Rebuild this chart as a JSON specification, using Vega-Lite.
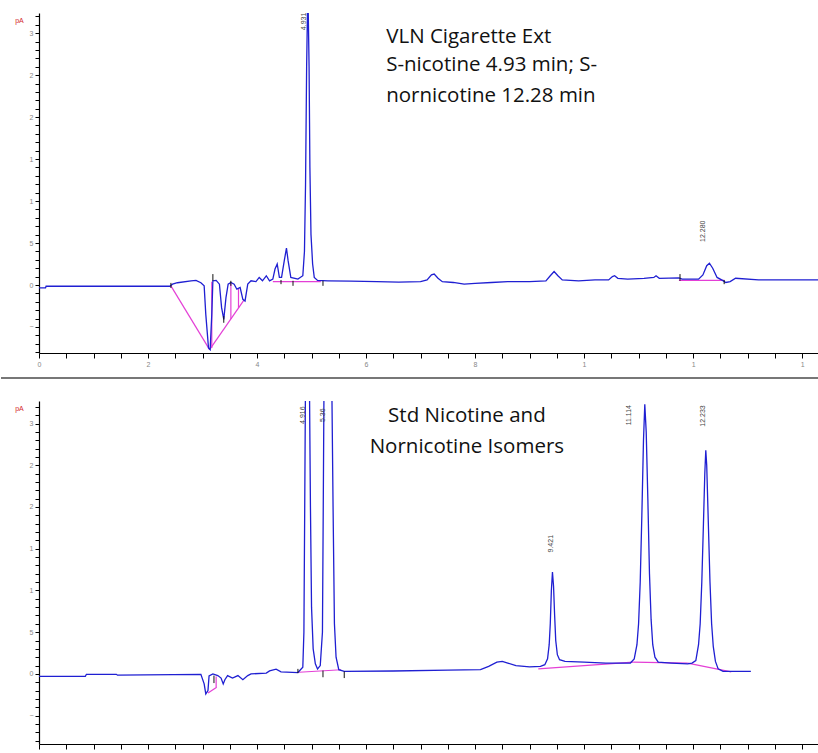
{
  "$schema": "https://vega.github.io/schema/vega-lite/v6.json",
  "autosize": {"type": "pad"},
  "padding": {"left": 0, "top": 12, "right": 0, "bottom": 0},
  "background": "white",
  "spacing": 48,
  "bounds": "flush",
  "config": {
    "view": {"stroke": null},
    "axis": {"grid": false, "domainColor": "#000", "tickColor": "#000", "labelColor": "#888", "labelFontSize": 7, "labelFont": "Liberation Sans", "labelOverlap": false, "labelFlush": false, "domainWidth": 1.2}
  },
  "datasets": {
    "top": [
      {"t":0,"v":-0.35},{"t":0.12,"v":-0.35},{"t":0.13,"v":-0.15},{"t":2.4,"v":-0.15},{"t":2.45,"v":0.1},{"t":2.54,"v":0.27},{"t":2.79,"v":0.48},{"t":2.88,"v":0.55},{"t":2.97,"v":0.27},{"t":3.03,"v":-0.1},{"t":3.06,"v":-3.5},{"t":3.11,"v":-7.5},{"t":3.14,"v":-7.7},{"t":3.17,"v":-3.5},{"t":3.19,"v":0.5},{"t":3.25,"v":0.55},{"t":3.31,"v":0.1},{"t":3.35,"v":-2.7},{"t":3.39,"v":-4.1},{"t":3.43,"v":-1.5},{"t":3.47,"v":0.1},{"t":3.52,"v":0.3},{"t":3.58,"v":0.1},{"t":3.63,"v":-0.5},{"t":3.69,"v":-0.3},{"t":3.74,"v":-1.7},{"t":3.78,"v":-1.9},{"t":3.83,"v":0.1},{"t":3.89,"v":0.5},{"t":3.98,"v":0.4},{"t":4.04,"v":0.9},{"t":4.1,"v":0.5},{"t":4.17,"v":1.1},{"t":4.23,"v":0.5},{"t":4.29,"v":0.7},{"t":4.33,"v":1.9},{"t":4.37,"v":2.5},{"t":4.41,"v":0.9},{"t":4.45,"v":0.9},{"t":4.5,"v":2.9},{"t":4.54,"v":4.4},{"t":4.57,"v":2.9},{"t":4.62,"v":0.9},{"t":4.75,"v":0.7},{"t":4.84,"v":1.1},{"t":4.87,"v":4},{"t":4.89,"v":12},{"t":4.91,"v":26},{"t":4.925,"v":32.4},{"t":4.94,"v":32.4},{"t":4.955,"v":26},{"t":4.97,"v":14},{"t":4.99,"v":6},{"t":5.02,"v":2.5},{"t":5.05,"v":0.9},{"t":5.11,"v":0.55},{"t":5.3,"v":0.5},{"t":5.72,"v":0.45},{"t":6.2,"v":0.4},{"t":6.6,"v":0.35},{"t":7.0,"v":0.4},{"t":7.12,"v":0.6},{"t":7.2,"v":1.2},{"t":7.25,"v":1.3},{"t":7.32,"v":0.8},{"t":7.4,"v":0.4},{"t":7.6,"v":0.3},{"t":7.8,"v":0.1},{"t":8.0,"v":0.2},{"t":8.3,"v":0.3},{"t":8.6,"v":0.4},{"t":9.0,"v":0.4},{"t":9.3,"v":0.5},{"t":9.38,"v":1.1},{"t":9.45,"v":1.6},{"t":9.52,"v":1.1},{"t":9.6,"v":0.6},{"t":9.9,"v":0.5},{"t":10.2,"v":0.6},{"t":10.45,"v":0.6},{"t":10.52,"v":1.0},{"t":10.56,"v":1.1},{"t":10.62,"v":0.8},{"t":10.8,"v":0.7},{"t":11.1,"v":0.8},{"t":11.28,"v":0.9},{"t":11.32,"v":1.1},{"t":11.38,"v":0.8},{"t":11.74,"v":0.85},{"t":11.8,"v":0.7},{"t":12.1,"v":0.7},{"t":12.18,"v":1.2},{"t":12.25,"v":2.3},{"t":12.3,"v":2.6},{"t":12.36,"v":2.0},{"t":12.44,"v":0.9},{"t":12.54,"v":0.55},{"t":12.6,"v":0.3},{"t":12.68,"v":0.4},{"t":12.78,"v":0.8},{"t":13.2,"v":0.6},{"t":14.31,"v":0.6}
    ],
    "bottom": [
      {"t":0,"v":-0.3},{"t":0.85,"v":-0.3},{"t":0.87,"v":-0.05},{"t":1.42,"v":-0.05},{"t":1.44,"v":-0.15},{"t":2.97,"v":-0.05},{"t":3.03,"v":-1.2},{"t":3.06,"v":-2.4},{"t":3.1,"v":-2.0},{"t":3.12,"v":-0.25},{"t":3.19,"v":0.0},{"t":3.28,"v":-0.2},{"t":3.34,"v":-0.5},{"t":3.38,"v":-1.2},{"t":3.41,"v":-0.7},{"t":3.46,"v":-0.2},{"t":3.55,"v":-0.5},{"t":3.65,"v":-0.2},{"t":3.74,"v":-0.7},{"t":3.83,"v":-0.2},{"t":3.89,"v":0},{"t":4.17,"v":0.1},{"t":4.23,"v":0.36},{"t":4.35,"v":0.56},{"t":4.44,"v":0.25},{"t":4.75,"v":0.16},{"t":4.84,"v":0.8},{"t":4.86,"v":5},{"t":4.875,"v":20},{"t":4.89,"v":36},{"t":4.96,"v":36},{"t":4.98,"v":20},{"t":5.0,"v":8},{"t":5.03,"v":3},{"t":5.07,"v":1.2},{"t":5.11,"v":0.6},{"t":5.16,"v":1.0},{"t":5.2,"v":5},{"t":5.215,"v":20},{"t":5.23,"v":36},{"t":5.37,"v":36},{"t":5.395,"v":20},{"t":5.42,"v":6},{"t":5.45,"v":2},{"t":5.5,"v":0.5},{"t":5.6,"v":0.3},{"t":6.5,"v":0.35},{"t":7.5,"v":0.45},{"t":8.1,"v":0.5},{"t":8.25,"v":0.9},{"t":8.4,"v":1.4},{"t":8.5,"v":1.5},{"t":8.6,"v":1.3},{"t":8.75,"v":1.0},{"t":9.0,"v":0.85},{"t":9.2,"v":0.9},{"t":9.28,"v":1.1},{"t":9.33,"v":1.8},{"t":9.36,"v":3.5},{"t":9.38,"v":6},{"t":9.4,"v":10},{"t":9.42,"v":12.2},{"t":9.44,"v":10.5},{"t":9.46,"v":7},{"t":9.48,"v":4},{"t":9.51,"v":2.3},{"t":9.55,"v":1.7},{"t":9.65,"v":1.5},{"t":10.0,"v":1.4},{"t":10.4,"v":1.3},{"t":10.85,"v":1.3},{"t":10.92,"v":1.8},{"t":10.97,"v":3.5},{"t":11.0,"v":6},{"t":11.03,"v":11},{"t":11.06,"v":19},{"t":11.09,"v":28},{"t":11.114,"v":32.3},{"t":11.14,"v":29},{"t":11.17,"v":21},{"t":11.2,"v":12},{"t":11.23,"v":6.5},{"t":11.26,"v":3.5},{"t":11.3,"v":2.0},{"t":11.36,"v":1.4},{"t":11.6,"v":1.3},{"t":11.9,"v":1.2},{"t":11.98,"v":1.3},{"t":12.05,"v":1.6},{"t":12.1,"v":3.5},{"t":12.13,"v":6},{"t":12.16,"v":11},{"t":12.19,"v":18},{"t":12.215,"v":24},{"t":12.233,"v":26.8},{"t":12.25,"v":25},{"t":12.28,"v":18},{"t":12.31,"v":11},{"t":12.34,"v":6},{"t":12.37,"v":3.3},{"t":12.41,"v":1.5},{"t":12.46,"v":0.6},{"t":12.55,"v":0.3},{"t":13.06,"v":0.3}
    ],
    "topBase": [
      {"t":2.42,"v":-0.1,"t2":3.13,"v2":-7.7},{"t":3.17,"v":-7.5,"t2":3.17,"v2":0.4},{"t":3.13,"v":-7.7,"t2":3.76,"v2":-1.8},{"t":3.52,"v":-4.05,"t2":3.52,"v2":0.2},{"t":3.66,"v":-2.74,"t2":3.66,"v2":-0.4},{"t":4.29,"v":0.4,"t2":5.17,"v2":0.4},{"t":11.74,"v":0.55,"t2":12.57,"v2":0.55}
    ],
    "bottomBase": [
      {"t":3.1,"v":-2.3,"t2":3.26,"v2":-1.6},{"t":3.25,"v":-1.6,"t2":3.25,"v2":-0.3},{"t":4.77,"v":0.2,"t2":5.54,"v2":0.5},{"t":9.16,"v":0.6,"t2":10.9,"v2":1.4},{"t":10.9,"v":1.4,"t2":11.9,"v2":1.3},{"t":11.9,"v":1.3,"t2":12.7,"v2":0.25}
    ],
    "topTicks": [
      {"t":2.42,"v":-0.35,"v2":0.25},{"t":3.19,"v":0.5,"v2":1.3},{"t":3.39,"v":-4.5,"v2":-3.7},{"t":3.52,"v":-0.1,"v2":0.5},{"t":4.44,"v":0.1,"v2":0.6},{"t":4.66,"v":-0.1,"v2":0.5},{"t":5.21,"v":-0.1,"v2":0.5},{"t":11.76,"v":0.5,"v2":1.3},{"t":12.57,"v":0.1,"v2":0.6}
    ],
    "bottomTicks": [
      {"t":3.21,"v":-1.1,"v2":-0.2},{"t":4.75,"v":0.1,"v2":0.6},{"t":5.21,"v":-0.4,"v2":0.4},{"t":5.6,"v":-0.5,"v2":0.3}
    ],
    "topPeakLabels": [
      {"t":4.87,"v":31.4,"label":"4.931"},{"t":12.18,"v":6.4,"label":"12.280"}
    ],
    "bottomPeakLabels": [
      {"t":4.84,"v":31.0,"label":"4.916"},{"t":5.21,"v":31.0,"label":"5.36"},{"t":9.39,"v":15.6,"label":"9.421"},{"t":10.83,"v":31.0,"label":"11.114"},{"t":12.18,"v":30.9,"label":"12.233"}
    ],
    "topNotes": [
      {"t":6.37,"v":29.6,"label":"VLN Cigarette Ext"},{"t":6.37,"v":26.2,"label":"S-nicotine 4.93 min; S-"},{"t":6.37,"v":22.5,"label":"nornicotine 12.28 min"}
    ],
    "bottomNotes": [
      {"t":7.85,"v":30.9,"label":"Std Nicotine and"},{"t":7.85,"v":27.2,"label":"Nornicotine Isomers"}
    ],
    "separator": [
      {"t":-0.697,"t2":14.31,"v":-11.07}
    ]
  },
  "vconcat": [
    {
      "width": 780,
      "height": 340,
      "encoding": {
        "x": {"field": "t", "type": "quantitative", "scale": {"domain": [0, 14.31], "nice": false, "zero": false},
          "axis": {"title": null, "values": [0,0.5,1,1.5,2,2.5,3,3.5,4,4.5,5,5.5,6,6.5,7,7.5,8,8.5,9,9.5,10,10.5,11,11.5,12,12.5,13,13.5,14], "labelExpr": "datum.value % 2 === 0 ? substring(datum.label, 0, 1) : ''", "tickSize": 5, "labelPadding": 2}},
        "y": {"field": "v", "type": "quantitative", "scale": {"domain": [-8.1, 32.4], "nice": false, "zero": false},
          "axis": {"title": "pA", "titleAngle": 0, "titleX": -20, "titleY": 7, "titleColor": "#d42a2a", "titleFontSize": 7, "titleFontWeight": "normal", "titleAlign": "center", "titleBaseline": "middle", "values": [-8,-7,-6,-5,-4,-3,-2,-1,0,1,2,3,4,5,6,7,8,9,10,11,12,13,14,15,16,17,18,19,20,21,22,23,24,25,26,27,28,29,30,31,32], "labelExpr": "datum.value % 5 === 0 ? substring(datum.label, 0, 1) : ''", "tickSize": 4, "labelPadding": 2}}
      },
      "layer": [
        {"data": {"name": "separator"}, "mark": {"type": "rule", "color": "#777", "strokeWidth": 2, "clip": false}, "encoding": {"x2": {"field": "t2"}}},
        {"data": {"name": "topBase"}, "mark": {"type": "rule", "color": "#e43fd6", "strokeWidth": 1.2}, "encoding": {"x2": {"field": "t2"}, "y2": {"field": "v2"}}},
        {"data": {"name": "top"}, "mark": {"type": "line", "color": "#1f1fd2", "strokeWidth": 1.3, "clip": true}},
        {"data": {"name": "topTicks"}, "mark": {"type": "rule", "color": "#111", "strokeWidth": 1}, "encoding": {"y2": {"field": "v2"}}},
        {"data": {"name": "topPeakLabels"}, "mark": {"type": "text", "angle": 270, "fontSize": 7, "font": "Liberation Sans", "color": "#444", "align": "center", "baseline": "middle"}, "encoding": {"text": {"field": "label"}}},
        {"data": {"name": "topNotes"}, "mark": {"type": "text", "fontSize": 20.5, "font": "Open Sans", "color": "#111", "align": "left", "baseline": "middle"}, "encoding": {"text": {"field": "label"}}}
      ]
    },
    {
      "width": 780,
      "height": 343,
      "encoding": {
        "x": {"field": "t", "type": "quantitative", "scale": {"domain": [0, 14.31], "nice": false, "zero": false},
          "axis": {"title": null, "values": [0,0.5,1,1.5,2,2.5,3,3.5,4,4.5,5,5.5,6,6.5,7,7.5,8,8.5,9,9.5,10,10.5,11,11.5,12,12.5,13,13.5,14], "labelExpr": "datum.value % 2 === 0 ? substring(datum.label, 0, 1) : ''", "tickSize": 5, "labelPadding": 2}},
        "y": {"field": "v", "type": "quantitative", "scale": {"domain": [-8.4, 32.7], "nice": false, "zero": false},
          "axis": {"title": "pA", "titleAngle": 0, "titleX": -20, "titleY": 7, "titleColor": "#d42a2a", "titleFontSize": 7, "titleFontWeight": "normal", "titleAlign": "center", "titleBaseline": "middle", "values": [-8,-7,-6,-5,-4,-3,-2,-1,0,1,2,3,4,5,6,7,8,9,10,11,12,13,14,15,16,17,18,19,20,21,22,23,24,25,26,27,28,29,30,31,32], "labelExpr": "datum.value % 5 === 0 ? substring(datum.label, 0, 1) : ''", "tickSize": 4, "labelPadding": 2}}
      },
      "layer": [
        {"data": {"name": "bottomBase"}, "mark": {"type": "rule", "color": "#e43fd6", "strokeWidth": 1.2}, "encoding": {"x2": {"field": "t2"}, "y2": {"field": "v2"}}},
        {"data": {"name": "bottom"}, "mark": {"type": "line", "color": "#1f1fd2", "strokeWidth": 1.3, "clip": true}},
        {"data": {"name": "bottomTicks"}, "mark": {"type": "rule", "color": "#111", "strokeWidth": 1}, "encoding": {"y2": {"field": "v2"}}},
        {"data": {"name": "bottomPeakLabels"}, "mark": {"type": "text", "angle": 270, "fontSize": 7, "font": "Liberation Sans", "color": "#444", "align": "center", "baseline": "middle"}, "encoding": {"text": {"field": "label"}}},
        {"data": {"name": "bottomNotes"}, "mark": {"type": "text", "fontSize": 20.5, "font": "Open Sans", "color": "#111", "align": "center", "baseline": "middle"}, "encoding": {"text": {"field": "label"}}}
      ]
    }
  ]
}
